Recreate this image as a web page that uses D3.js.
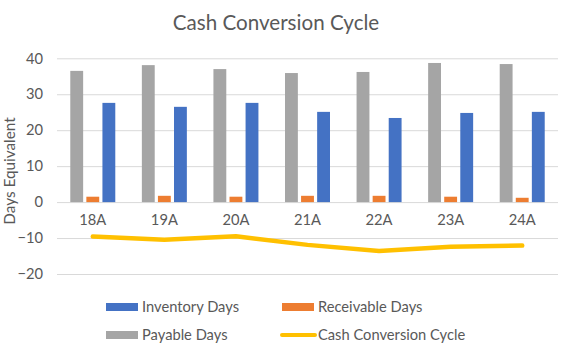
<!DOCTYPE html>
<html>
<head>
<meta charset="utf-8">
<script src="https://cdn.jsdelivr.net/npm/d3@7"></script>
<style>
  body { margin: 0; background: #fff; }
  text { font-family: Lato, "Open Sans", sans-serif; fill: #595959; }
</style>
</head>
<body>
<div id="my_chart"></div>
<script>
// ---- data ----
const years = ["18A", "19A", "20A", "21A", "22A", "23A", "24A"];
const payable_days    = [36.5, 38.1, 37.0, 35.9, 36.2, 38.7, 38.4];
const receivable_days = [1.5, 1.75, 1.5, 1.75, 1.75, 1.5, 1.2];
const inventory_days  = [27.6, 26.5, 27.6, 25.1, 23.4, 24.8, 25.1];
const ccc_days        = [-9.6, -10.5, -9.5, -11.9, -13.6, -12.4, -12.1];
const y_ticks = [-20, -10, 0, 10, 20, 30, 40];

// bar series, in the order Excel draws them inside each group
const bar_series = [
    { name: "Payable Days",    values: payable_days,    color: "#A5A5A5" },
    { name: "Receivable Days", values: receivable_days, color: "#ED7D31" },
    { name: "Inventory Days",  values: inventory_days,  color: "#4472C4" }
];

const legend_items = [
    { name: "Inventory Days",        color: "#4472C4", kind: "bar" },
    { name: "Receivable Days",       color: "#ED7D31", kind: "bar" },
    { name: "Payable Days",          color: "#A5A5A5", kind: "bar" },
    { name: "Cash Conversion Cycle", color: "#FFC000", kind: "line" }
];

const outer_width = 572, outer_height = 351;
const margins = { left: 57, right: 14, top: 58.3, bottom: 77 };
const width = outer_width - margins.left - margins.right;
const height = outer_height - margins.top - margins.bottom;
const label_size = "14.7px";   // Lato runs small next to Calibri, so bump it up

const svg = d3.select("#my_chart").append("svg")
    .attr("width", outer_width)
    .attr("height", outer_height);

// title
svg.append("text")
    .attr("x", 276).attr("y", 30)
    .attr("text-anchor", "middle")
    .style("font-size", "20.6px")
    .text("Cash Conversion Cycle");

const chart = svg.append("g")
    .attr("transform", `translate(${margins.left},${margins.top})`);

// scales
const x_scale = d3.scaleBand().domain(years).range([0, width]);
const y_scale = d3.scaleLinear().domain([-20, 40]).range([height, 0]);
const bar_scale = d3.scaleBand()
    .domain(bar_series.map(s => s.name))
    .range([-22.5, 22.5])
    .paddingInner(0.2);

// y axis + gridlines
const y_axis = chart.append("g")
    .call(d3.axisLeft(y_scale).tickValues(y_ticks).tickSize(-width).tickPadding(14));
y_axis.select(".domain").remove();
y_axis.selectAll("line").attr("stroke", "#D9D9D9");
y_axis.selectAll("text").style("font-size", label_size).style("font-family", null);

// y axis title
svg.append("text")
    .attr("transform", `translate(14.5,${171}) rotate(-90)`)
    .attr("text-anchor", "middle")
    .style("font-size", "15.3px")
    .text("Days Equivalent");

// bars
const groups = chart.append("g").selectAll("g")
    .data(bar_series)
    .join("g")
    .attr("fill", d => d.color);

groups.selectAll("rect")
    .data(s => s.values.map((v, i) => ({ name: s.name, year: years[i], value: v })))
    .join("rect")
    .attr("x", d => x_scale(d.year) + x_scale.bandwidth() / 2 + bar_scale(d.name))
    .attr("width", bar_scale.bandwidth())
    .attr("y", d => y_scale(Math.max(0, d.value)))
    .attr("height", d => Math.abs(y_scale(d.value) - y_scale(0)));

// category axis at zero
const x_axis = chart.append("g")
    .attr("transform", `translate(0,${y_scale(0)})`)
    .call(d3.axisBottom(x_scale).tickSize(0).tickPadding(12.8));
x_axis.select(".domain").remove();
x_axis.selectAll("text").style("font-size", label_size).style("font-family", null);

// cash conversion cycle line
const line = d3.line()
    .x((d, i) => x_scale(years[i]) + x_scale.bandwidth() / 2)
    .y(d => y_scale(d));

chart.append("path")
    .datum(ccc_days)
    .attr("fill", "none")
    .attr("stroke", "#FFC000")
    .attr("stroke-width", 4.5)
    .attr("stroke-linecap", "round")
    .attr("stroke-linejoin", "round")
    .attr("d", line);

// legend
const legend = svg.append("g");
const legend_item = legend.selectAll("g")
    .data(legend_items)
    .join("g")
    .attr("transform", (d, i) => `translate(${i % 2 === 0 ? 106 : 282},${i < 2 ? 307 : 335})`);

legend_item.filter(d => d.kind === "bar").append("rect")
    .attr("x", 0).attr("y", -4)
    .attr("width", 32).attr("height", 8)
    .attr("fill", d => d.color);

legend_item.filter(d => d.kind === "line").append("line")
    .attr("x1", 0).attr("x2", 33)
    .attr("stroke", d => d.color)
    .attr("stroke-width", 4)
    .attr("stroke-linecap", "round");

legend_item.append("text")
    .attr("x", 36).attr("y", 0)
    .attr("dy", "0.35em")
    .style("font-size", label_size)
    .text(d => d.name);
</script>
</body>
</html>
